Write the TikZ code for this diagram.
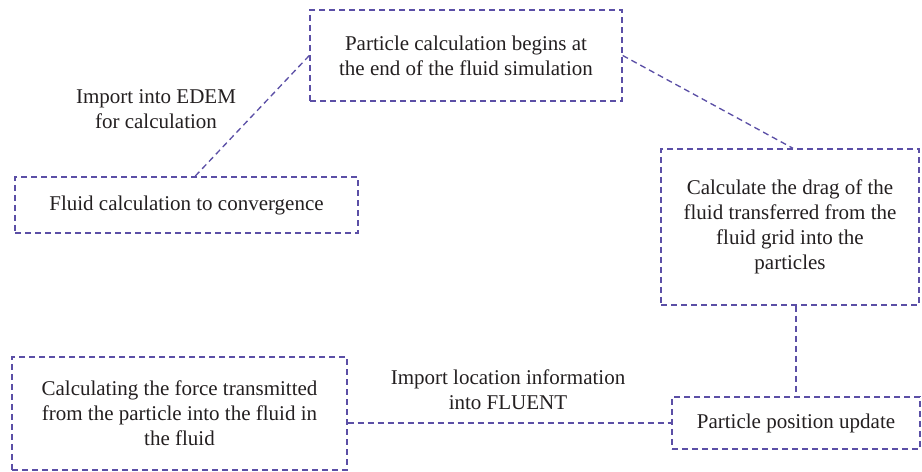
\documentclass[tikz,border=0pt]{standalone}
\usepackage{fontspec}
\setmainfont{Liberation Serif}
\usetikzlibrary{calc}
\definecolor{flowLine}{HTML}{5B4FA6}
\definecolor{flowText}{HTML}{231F20}

\begin{document}
\begin{tikzpicture}[x=0.6pt, y=-0.6pt,
  stage/.style={draw=flowLine, line width=0.8pt, dash pattern=on 3.6pt off 2.4pt,
                align=center, text=flowText, inner sep=0pt,
                font=\fontsize{12.6}{15}\selectfont},
  link/.style={draw=flowLine, line width=0.8pt, dash pattern=on 3.6pt off 2.4pt},
  note/.style={align=center, text=flowText, font=\fontsize{12.6}{15}\selectfont}
]
  \useasboundingbox (0,0) rectangle (922,472);

  % boxes
  \node[stage, minimum width=187.2pt, minimum height=54.6pt] (start) at (466,55.5)
    {Particle calculation begins at\\the end of the fluid simulation};
  \node[stage, minimum width=205.8pt, minimum height=33.6pt] (fluid) at (186.5,205)
    {Fluid calculation to convergence};
  \node[stage, minimum width=154.8pt, minimum height=93.6pt] (drag) at (790,227)
    {Calculate the drag of the\\fluid transferred from the\\fluid grid into the\\particles};
  \node[stage, minimum width=201pt, minimum height=67.8pt] (force) at (179.5,413.5)
    {Calculating the force transmitted\\from the particle into the fluid in\\the fluid};
  \node[stage, minimum width=148.8pt, minimum height=31.2pt] (update) at (796,423)
    {Particle position update};

  % labels
  \node[note] (edem) at (156,109.5) {Import into EDEM\\for calculation};
  \node[note] (fluent) at (508,389.5) {Import location information\\into FLUENT};

  % links
  \draw[link] (start.west) -- ($(fluid.north)+(8.5,0)$);
  \draw[link] (start.east) -- ($(drag.north)+(3,0)$);
  \draw[link] ($(fluid.south)+(-3.5,0)$) -- ($(fluid.south)+(-3.5,0)$ |- force.north);
  \draw[link] (update.north |- drag.south) -- (update.north);
  \draw[link] (force.east |- update.west) -- (update.west);
\end{tikzpicture}
\end{document}
